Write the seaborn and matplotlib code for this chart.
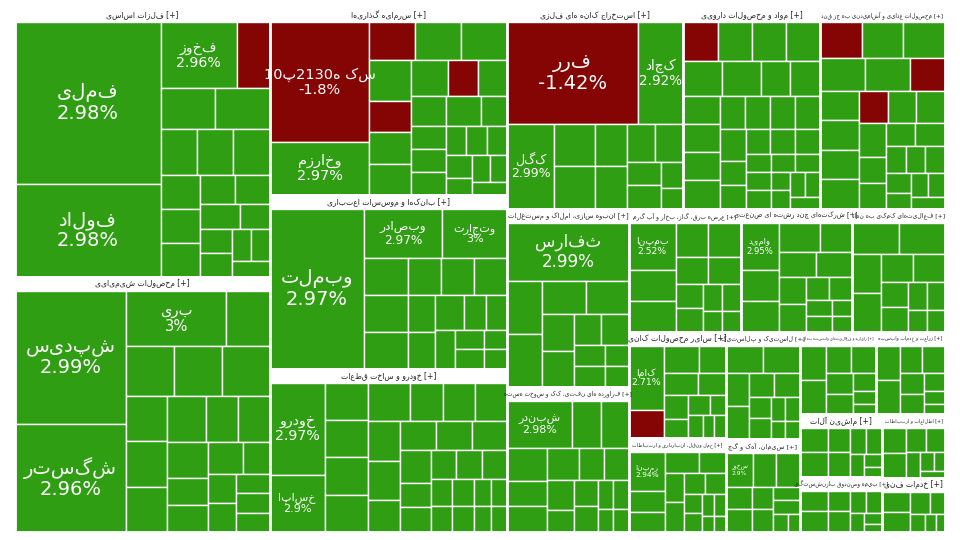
import matplotlib.pyplot as plt
import matplotlib.patches as mpatches
import seaborn as sns

sns.set_theme(style='white')
plt.rcParams['font.family'] = ['DejaVu Sans']

# sectors: name, list of (symbol, weight, change%)
sector_names = ['فلزات اساسی', 'محصولات شیمیایی', 'سرمایه گذاریها', 'بانکها و موسسات اعتباری',
                'خودرو و ساخت قطعات', 'استخراج کانه های فلزی', 'مواد و محصولات دارویی',
                'محصولات غذایی و آشامیدنی به جز قند', 'انبوه سازی، املاک و مستغلات',
                'فراورده های نفتی، کک و سوخت هسته', 'عرضه برق، گاز، بخار و آب گرم',
                'شرکتهای چند رشته ای صنعتی', 'فعالیتهای کمکی به نهاد', 'سایر محصولات کانی',
                'حمل ونقل، انبارداری و ارتباطات', 'لاستیک و پلاستیک', 'سیمان، آهک و گچ',
                'رایانه و فعالیتهای وابسته به آن', 'زراعت و خدمات وابسته', 'ماشین آلات',
                'بیمه وصندوق بازنشستگی', 'اطلاعات و ارتباطات', 'خدمات فنی']
sector_weights = [60, 57, 39, 36, 34, 31, 24, 22, 19, 15.5, 12, 12, 10, 9, 8, 7, 6, 5.5, 5, 4.5, 4, 3.5, 3]

big_stocks = {
    'فلزات اساسی': [('فملی', 14, 2.98), ('فولاد', 8, 2.98), ('فخوز', 3, 2.96)],
    'محصولات شیمیایی': [('شپدیس', 8, 2.99), ('شگستر', 6.5, 2.96), ('بری', 3, 3)],
    'سرمایه گذاریها': [('سک ه0312پ01', 9, -1.8), ('وخارزم', 4, 2.97)],
    'بانکها و موسسات اعتباری': [('وبملت', 12, 2.97), ('وبصادر', 3, 2.97), ('وتجارت', 2.5, 3)],
    'خودرو و ساخت قطعات': [('خودرو', 4, 2.97), ('خساپا', 2.5, 2.9)],
    'استخراج کانه های فلزی': [('فرر', 10, -1.42), ('کچاد', 3.5, 2.92), ('کگل', 3, 2.99)],
    'انبوه سازی، املاک و مستغلات': [('ثفارس', 5, 2.99)],
    'فراورده های نفتی، کک و سوخت هسته': [('شبندر', 3, 2.98)],
    'عرضه برق، گاز، بخار و آب گرم': [('بمپنا', 2, 2.52)],
    'شرکتهای چند رشته ای صنعتی': [('وامید', 2, 2.95)],
    'سیمان، آهک و گچ': [('سخوز', 1.5, 2.9)],
    'حمل ونقل، انبارداری و ارتباطات': [('رمپنا', 2.5, 2.94)],
    'سایر محصولات کانی': [('کاما', 3, 2.71)],
}
small_counts = [18, 20, 24, 16, 28, 10, 32, 26, 12, 16, 12, 14, 12, 12, 14, 12, 10, 9, 9, 9, 9, 8, 7]
red_small = {'فلزات اساسی': 1, 'سرمایه گذاریها': 3, 'مواد و محصولات دارویی': 1,
             'محصولات غذایی و آشامیدنی به جز قند': 3, 'سایر محصولات کانی': 1}
small_weights = [1.3, 1.0, 0.8, 0.6, 0.45, 0.35]

W, H = 930, 524
GREEN, RED = '#2f9e12', '#850404'


def rtl(s):
    return s[::-1]


def worst(row, w):
    s = sum(row)
    return max(max(w * w * r / (s * s), s * s / (w * w * r)) for r in row)


def squarify(vals, x, y, dx, dy):
    tot = sum(vals)
    vals = [v * dx * dy / tot for v in vals]
    rects = []
    while vals:
        w = min(dx, dy)
        row = [vals.pop(0)]
        while vals and worst(row + [vals[0]], w) <= worst(row, w):
            row.append(vals.pop(0))
        s = sum(row)
        if dx >= dy:
            cw = s / dy
            cy = y
            for r in row:
                rects.append((x, cy, cw, r / cw))
                cy += r / cw
            x += cw
            dx -= cw
        else:
            ch = s / dx
            cx = x
            for r in row:
                rects.append((cx, y, r / ch, ch))
                cx += r / ch
            y += ch
            dy -= ch
    return rects


fig = plt.figure(figsize=(9.6, 5.4), dpi=100)
ax = fig.add_axes([15 / 960, 8 / 540, W / 960, H / 540])
ax.set_xlim(0, W)
ax.set_ylim(H, 0)
ax.axis('off')

order = sorted(range(len(sector_names)), key=lambda i: -sector_weights[i])
srects = squarify([sector_weights[i] for i in order], 0, 0, W, H)
for i, (sx, sy, sw, sh) in zip(order, srects):
    name = sector_names[i]
    hh = 14 if sh > 40 else 10
    ax.add_patch(mpatches.Rectangle((sx, sy), sw, hh, fc='white', ec='#bbbbbb', lw=0.6))
    title = rtl(name) + ' [+]'
    fs = max(2.5, min(5.5, (sw - 6) / (len(title) * 0.55 * 1.39)))
    ax.text(sx + sw / 2, sy + hh / 2, title, ha='center', va='center',
            fontsize=fs, color='#222222', clip_on=True)
    stocks = list(big_stocks.get(name, []))
    nred = red_small.get(name, 0)
    for k in range(small_counts[i]):
        stocks.append(('', small_weights[k % len(small_weights)], -1 if k < nred else 2.9))
    stocks.sort(key=lambda s: -s[1])
    crects = squarify([s[1] for s in stocks], sx, sy + hh, sw, sh - hh)
    for (sym, wt, ch), (cx, cy, cw, chh) in zip(stocks, crects):
        ax.add_patch(mpatches.Rectangle((cx, cy), cw, chh, fc=RED if ch < 0 else GREEN,
                                        ec='white', lw=1.0))
        if sym:
            size = max(4, min(14, (cw * chh) ** 0.5 / 7, (cw - 4) / (len(sym) * 0.6 * 1.39)))
            ax.text(cx + cw / 2, cy + chh / 2, f'{rtl(sym)}\n{ch:g}%', ha='center', va='center',
                    fontsize=size, color='white', linespacing=1.1, clip_on=True)
    ax.add_patch(mpatches.Rectangle((sx, sy), sw, sh, fill=False, ec='white', lw=2))

fig.savefig('out.png', dpi=100)
